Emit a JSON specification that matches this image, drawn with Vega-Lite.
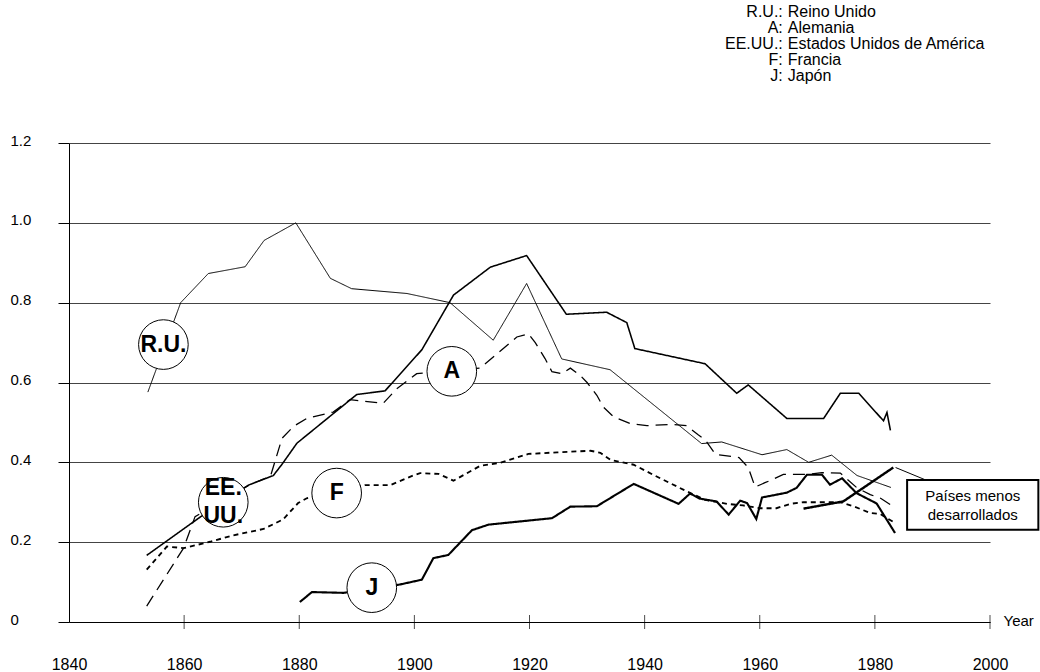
{
  "$schema": "https://vega.github.io/schema/vega-lite/v6.json",
  "width": 921,
  "height": 479,
  "autosize": {"type": "none"},
  "padding": {"left": 69, "top": 143, "right": 50, "bottom": 50},
  "background": "white",
  "config": {"view": {"stroke": null}, "font": "Liberation Sans"},
  "datasets": {
    "series": [
      {"country": "RU", "year": 1853.7, "value": 0.576},
      {"country": "RU", "year": 1859.4, "value": 0.80},
      {"country": "RU", "year": 1864.2, "value": 0.873},
      {"country": "RU", "year": 1870.6, "value": 0.89},
      {"country": "RU", "year": 1873.9, "value": 0.956},
      {"country": "RU", "year": 1879.4, "value": 1.0},
      {"country": "RU", "year": 1885.4, "value": 0.861},
      {"country": "RU", "year": 1889.1, "value": 0.835},
      {"country": "RU", "year": 1898.7, "value": 0.823},
      {"country": "RU", "year": 1906.2, "value": 0.80},
      {"country": "RU", "year": 1913.7, "value": 0.706},
      {"country": "RU", "year": 1919.5, "value": 0.848},
      {"country": "RU", "year": 1925.6, "value": 0.659},
      {"country": "RU", "year": 1934.0, "value": 0.632},
      {"country": "RU", "year": 1949.9, "value": 0.447},
      {"country": "RU", "year": 1953.4, "value": 0.451},
      {"country": "RU", "year": 1960.4, "value": 0.419},
      {"country": "RU", "year": 1964.7, "value": 0.432},
      {"country": "RU", "year": 1968.5, "value": 0.40},
      {"country": "RU", "year": 1972.5, "value": 0.418},
      {"country": "RU", "year": 1976.9, "value": 0.367},
      {"country": "RU", "year": 1982.8, "value": 0.337},
      {"country": "EEUU", "year": 1853.5, "value": 0.167},
      {"country": "EEUU", "year": 1862.8, "value": 0.263},
      {"country": "EEUU", "year": 1871.2, "value": 0.343},
      {"country": "EEUU", "year": 1875.5, "value": 0.367},
      {"country": "EEUU", "year": 1877.0, "value": 0.395},
      {"country": "EEUU", "year": 1879.6, "value": 0.448},
      {"country": "EEUU", "year": 1890.0, "value": 0.57},
      {"country": "EEUU", "year": 1894.9, "value": 0.579},
      {"country": "EEUU", "year": 1901.3, "value": 0.682},
      {"country": "EEUU", "year": 1906.8, "value": 0.819},
      {"country": "EEUU", "year": 1913.2, "value": 0.889},
      {"country": "EEUU", "year": 1919.5, "value": 0.918},
      {"country": "EEUU", "year": 1926.4, "value": 0.771},
      {"country": "EEUU", "year": 1933.4, "value": 0.776},
      {"country": "EEUU", "year": 1936.9, "value": 0.75},
      {"country": "EEUU", "year": 1938.3, "value": 0.685},
      {"country": "EEUU", "year": 1950.5, "value": 0.647},
      {"country": "EEUU", "year": 1956.0, "value": 0.573},
      {"country": "EEUU", "year": 1958.0, "value": 0.594},
      {"country": "EEUU", "year": 1964.7, "value": 0.51},
      {"country": "EEUU", "year": 1971.1, "value": 0.51},
      {"country": "EEUU", "year": 1974.0, "value": 0.573},
      {"country": "EEUU", "year": 1977.2, "value": 0.573},
      {"country": "EEUU", "year": 1981.5, "value": 0.504},
      {"country": "EEUU", "year": 1982.1, "value": 0.525},
      {"country": "EEUU", "year": 1982.7, "value": 0.48},
      {"country": "A", "year": 1853.5, "value": 0.04},
      {"country": "A", "year": 1859.9, "value": 0.185},
      {"country": "A", "year": 1861.9, "value": 0.264},
      {"country": "A", "year": 1871.5, "value": 0.345},
      {"country": "A", "year": 1875.0, "value": 0.365},
      {"country": "A", "year": 1877.0, "value": 0.46},
      {"country": "A", "year": 1879.0, "value": 0.49},
      {"country": "A", "year": 1881.3, "value": 0.51},
      {"country": "A", "year": 1885.9, "value": 0.526},
      {"country": "A", "year": 1888.8, "value": 0.557},
      {"country": "A", "year": 1894.6, "value": 0.548},
      {"country": "A", "year": 1896.9, "value": 0.584},
      {"country": "A", "year": 1900.4, "value": 0.622},
      {"country": "A", "year": 1911.4, "value": 0.636},
      {"country": "A", "year": 1917.8, "value": 0.714},
      {"country": "A", "year": 1919.8, "value": 0.722},
      {"country": "A", "year": 1921.0, "value": 0.70},
      {"country": "A", "year": 1922.7, "value": 0.66},
      {"country": "A", "year": 1923.9, "value": 0.627},
      {"country": "A", "year": 1925.6, "value": 0.622},
      {"country": "A", "year": 1927.1, "value": 0.636},
      {"country": "A", "year": 1928.8, "value": 0.618},
      {"country": "A", "year": 1930.0, "value": 0.60},
      {"country": "A", "year": 1931.7, "value": 0.568},
      {"country": "A", "year": 1932.8, "value": 0.539},
      {"country": "A", "year": 1934.6, "value": 0.514},
      {"country": "A", "year": 1937.5, "value": 0.497},
      {"country": "A", "year": 1940.4, "value": 0.492},
      {"country": "A", "year": 1945.0, "value": 0.495},
      {"country": "A", "year": 1947.3, "value": 0.492},
      {"country": "A", "year": 1949.3, "value": 0.469},
      {"country": "A", "year": 1950.5, "value": 0.457},
      {"country": "A", "year": 1952.3, "value": 0.42},
      {"country": "A", "year": 1956.4, "value": 0.412},
      {"country": "A", "year": 1958.0, "value": 0.387},
      {"country": "A", "year": 1959.2, "value": 0.338},
      {"country": "A", "year": 1960.9, "value": 0.349},
      {"country": "A", "year": 1962.4, "value": 0.358},
      {"country": "A", "year": 1964.1, "value": 0.37},
      {"country": "A", "year": 1968.2, "value": 0.37},
      {"country": "A", "year": 1970.8, "value": 0.374},
      {"country": "A", "year": 1974.0, "value": 0.373},
      {"country": "A", "year": 1976.9, "value": 0.336},
      {"country": "A", "year": 1979.2, "value": 0.319},
      {"country": "A", "year": 1981.0, "value": 0.31},
      {"country": "A", "year": 1983.2, "value": 0.289},
      {"country": "F", "year": 1853.5, "value": 0.131},
      {"country": "F", "year": 1857.0, "value": 0.189},
      {"country": "F", "year": 1859.9, "value": 0.185},
      {"country": "F", "year": 1864.5, "value": 0.201},
      {"country": "F", "year": 1868.5, "value": 0.217},
      {"country": "F", "year": 1873.8, "value": 0.233},
      {"country": "F", "year": 1877.2, "value": 0.257},
      {"country": "F", "year": 1879.8, "value": 0.298},
      {"country": "F", "year": 1881.3, "value": 0.31},
      {"country": "F", "year": 1891.4, "value": 0.343},
      {"country": "F", "year": 1895.8, "value": 0.343},
      {"country": "F", "year": 1899.8, "value": 0.367},
      {"country": "F", "year": 1901.0, "value": 0.373},
      {"country": "F", "year": 1904.2, "value": 0.371},
      {"country": "F", "year": 1906.8, "value": 0.354},
      {"country": "F", "year": 1911.4, "value": 0.391},
      {"country": "F", "year": 1914.9, "value": 0.399},
      {"country": "F", "year": 1919.8, "value": 0.421},
      {"country": "F", "year": 1924.8, "value": 0.425},
      {"country": "F", "year": 1930.6, "value": 0.429},
      {"country": "F", "year": 1932.3, "value": 0.424},
      {"country": "F", "year": 1934.1, "value": 0.406},
      {"country": "F", "year": 1938.1, "value": 0.394},
      {"country": "F", "year": 1941.6, "value": 0.368},
      {"country": "F", "year": 1946.8, "value": 0.331},
      {"country": "F", "year": 1950.5, "value": 0.306},
      {"country": "F", "year": 1954.3, "value": 0.296},
      {"country": "F", "year": 1957.1, "value": 0.292},
      {"country": "F", "year": 1960.0, "value": 0.285},
      {"country": "F", "year": 1962.9, "value": 0.285},
      {"country": "F", "year": 1965.3, "value": 0.296},
      {"country": "F", "year": 1967.6, "value": 0.30},
      {"country": "F", "year": 1974.0, "value": 0.30},
      {"country": "F", "year": 1976.3, "value": 0.29},
      {"country": "F", "year": 1979.2, "value": 0.273},
      {"country": "F", "year": 1980.9, "value": 0.271},
      {"country": "F", "year": 1983.5, "value": 0.248},
      {"country": "J", "year": 1880.1, "value": 0.05},
      {"country": "J", "year": 1882.2, "value": 0.075},
      {"country": "J", "year": 1887.7, "value": 0.073},
      {"country": "J", "year": 1897.5, "value": 0.094},
      {"country": "J", "year": 1901.3, "value": 0.106},
      {"country": "J", "year": 1903.3, "value": 0.16},
      {"country": "J", "year": 1905.9, "value": 0.168},
      {"country": "J", "year": 1910.0, "value": 0.23},
      {"country": "J", "year": 1912.9, "value": 0.244},
      {"country": "J", "year": 1923.9, "value": 0.26},
      {"country": "J", "year": 1927.1, "value": 0.289},
      {"country": "J", "year": 1931.7, "value": 0.29},
      {"country": "J", "year": 1938.1, "value": 0.346},
      {"country": "J", "year": 1945.9, "value": 0.296},
      {"country": "J", "year": 1947.9, "value": 0.322},
      {"country": "J", "year": 1949.6, "value": 0.309},
      {"country": "J", "year": 1952.5, "value": 0.302},
      {"country": "J", "year": 1954.6, "value": 0.269},
      {"country": "J", "year": 1956.6, "value": 0.304},
      {"country": "J", "year": 1957.8, "value": 0.298},
      {"country": "J", "year": 1959.4, "value": 0.258},
      {"country": "J", "year": 1960.4, "value": 0.312},
      {"country": "J", "year": 1964.7, "value": 0.324},
      {"country": "J", "year": 1966.4, "value": 0.336},
      {"country": "J", "year": 1968.2, "value": 0.369},
      {"country": "J", "year": 1970.8, "value": 0.369},
      {"country": "J", "year": 1972.2, "value": 0.344},
      {"country": "J", "year": 1974.3, "value": 0.36},
      {"country": "J", "year": 1976.8, "value": 0.323},
      {"country": "J", "year": 1980.3, "value": 0.297},
      {"country": "J", "year": 1983.5, "value": 0.223},
      {"country": "PMD", "year": 1967.6, "value": 0.284},
      {"country": "PMD", "year": 1974.5, "value": 0.302},
      {"country": "PMD", "year": 1983.2, "value": 0.387}
    ],
    "xticks": [
      {"year": 1860}, {"year": 1880}, {"year": 1900}, {"year": 1920},
      {"year": 1940}, {"year": 1960}, {"year": 1980}, {"year": 2000}
    ],
    "circles": [
      {"label": "R.U.", "year": 1856.4, "value": 0.695},
      {"label": "A", "year": 1906.5, "value": 0.628},
      {"label": "EE.\nUU.", "year": 1866.8, "value": 0.30},
      {"label": "F", "year": 1886.5, "value": 0.323},
      {"label": "J", "year": 1892.6, "value": 0.086}
    ],
    "box": [
      {"label": "Países menos\ndesarrollados", "year": 1985.6, "year2": 2008.4, "value": 0.356, "value2": 0.231, "textYear": 1997, "textValue": 0.293}
    ],
    "leader": [
      {"year": 1983.6, "value": 0.387, "year2": 1988.8, "value2": 0.356}
    ],
    "legend": [
      {"abbr": "R.U.:", "name": "Reino Unido", "year": 1964.0, "value": 1.528},
      {"abbr": "A:", "name": "Alemania", "year": 1964.0, "value": 1.488},
      {"abbr": "EE.UU.:", "name": "Estados Unidos de América", "year": 1964.0, "value": 1.448},
      {"abbr": "F:", "name": "Francia", "year": 1964.0, "value": 1.408},
      {"abbr": "J:", "name": "Japón", "year": 1964.0, "value": 1.368}
    ]
  },
  "layer": [
    {
      "data": {"name": "series"},
      "mark": {"type": "line", "color": "black", "strokeCap": "butt"},
      "encoding": {
        "x": {
          "field": "year", "type": "quantitative",
          "scale": {"domain": [1840, 2000], "nice": false, "zero": false},
          "axis": {
            "title": "Year", "values": [1840, 1860, 1880, 1900, 1920, 1940, 1960, 1980, 2000],
            "format": "d", "grid": false, "domainColor": "black", "domainWidth": 1,
            "ticks": false, "labelFontSize": 16, "labelPadding": 34, "labelFlush": false,
            "labelColor": "black", "labelFont": "Liberation Sans",
            "titleX": 934, "titleY": -2, "titleAlign": "left", "titleBaseline": "middle",
            "titleFontWeight": "normal", "titleFontSize": 15, "titleColor": "black", "titleFont": "Liberation Sans"
          }
        },
        "y": {
          "field": "value", "type": "quantitative",
          "scale": {"domain": [0, 1.2], "nice": false, "zero": true},
          "axis": {
            "title": null, "values": [0, 0.2, 0.4, 0.6, 0.8, 1.0, 1.2],
            "labelExpr": "datum.value == 0 ? '0' : format(datum.value, '.1f')",
            "grid": true, "gridColor": "#444", "gridWidth": 1,
            "domainColor": "black", "tickColor": "black", "tickSize": 11,
            "labelAlign": "left", "labelPadding": 48, "labelFontSize": 15, "labelBaseline": "middle",
            "labelFlush": false, "labelOffset": -3, "labelColor": "black", "labelFont": "Liberation Sans"
          }
        },
        "detail": {"field": "country", "type": "nominal"},
        "strokeWidth": {
          "field": "country", "type": "nominal",
          "scale": {"domain": ["RU", "A", "EEUU", "F", "J", "PMD"], "range": [1, 2.4, 3.4, 2.4, 2.2, 5.5]},
          "legend": null
        },
        "strokeDash": {
          "field": "country", "type": "nominal",
          "scale": {"domain": ["RU", "A", "EEUU", "F", "J", "PMD"], "range": [[1, 0], [12, 7], [1, 0], [5, 4], [1, 0], [1, 0]]},
          "legend": null
        }
      }
    },
    {
      "data": {"name": "xticks"},
      "mark": {"type": "tick", "orient": "vertical", "color": "black", "size": 14, "thickness": 1},
      "encoding": {
        "x": {"field": "year", "type": "quantitative"},
        "y": {"datum": 0, "type": "quantitative"}
      }
    },
    {
      "data": {"name": "leader"},
      "mark": {"type": "rule", "color": "black", "strokeWidth": 1},
      "encoding": {
        "x": {"field": "year", "type": "quantitative"},
        "x2": {"field": "year2"},
        "y": {"field": "value", "type": "quantitative"},
        "y2": {"field": "value2"}
      }
    },
    {
      "data": {"name": "circles"},
      "mark": {"type": "point", "shape": "circle", "size": 2463, "filled": true, "fill": "white", "stroke": "black", "strokeWidth": 1, "opacity": 1},
      "encoding": {
        "x": {"field": "year", "type": "quantitative"},
        "y": {"field": "value", "type": "quantitative"}
      }
    },
    {
      "data": {"name": "circles"},
      "transform": [{"filter": {"field": "label", "oneOf": ["R.U.", "A", "F", "J"]}}],
      "mark": {"type": "text", "fontSize": 23, "fontWeight": "bold", "align": "center", "baseline": "middle", "color": "black", "font": "Liberation Sans"},
      "encoding": {
        "x": {"field": "year", "type": "quantitative"},
        "y": {"field": "value", "type": "quantitative"},
        "text": {"field": "label"}
      }
    },
    {
      "data": {"name": "circles"},
      "transform": [{"filter": {"field": "label", "equal": "EE.\nUU."}}],
      "mark": {"type": "text", "fontSize": 23, "fontWeight": "bold", "lineBreak": "\n", "lineHeight": 28, "dy": -14, "align": "center", "baseline": "middle", "color": "black", "font": "Liberation Sans"},
      "encoding": {
        "x": {"field": "year", "type": "quantitative"},
        "y": {"field": "value", "type": "quantitative"},
        "text": {"field": "label"}
      }
    },
    {
      "data": {"name": "box"},
      "mark": {"type": "rect", "fill": "white", "stroke": "black", "strokeWidth": 2},
      "encoding": {
        "x": {"field": "year", "type": "quantitative"},
        "x2": {"field": "year2"},
        "y": {"field": "value", "type": "quantitative"},
        "y2": {"field": "value2"}
      }
    },
    {
      "data": {"name": "box"},
      "mark": {"type": "text", "fontSize": 15, "lineBreak": "\n", "lineHeight": 19, "dy": -9.5, "align": "center", "baseline": "middle", "color": "black", "font": "Liberation Sans"},
      "encoding": {
        "x": {"field": "textYear", "type": "quantitative"},
        "y": {"field": "textValue", "type": "quantitative"},
        "text": {"field": "label"}
      }
    },
    {
      "data": {"name": "legend"},
      "mark": {"type": "text", "fontSize": 16, "align": "right", "baseline": "middle", "color": "black", "font": "Liberation Sans"},
      "encoding": {
        "x": {"field": "year", "type": "quantitative"},
        "y": {"field": "value", "type": "quantitative"},
        "text": {"field": "abbr"}
      }
    },
    {
      "data": {"name": "legend"},
      "mark": {"type": "text", "fontSize": 16, "align": "left", "baseline": "middle", "dx": 5, "color": "black", "font": "Liberation Sans"},
      "encoding": {
        "x": {"field": "year", "type": "quantitative"},
        "y": {"field": "value", "type": "quantitative"},
        "text": {"field": "name"}
      }
    }
  ]
}
